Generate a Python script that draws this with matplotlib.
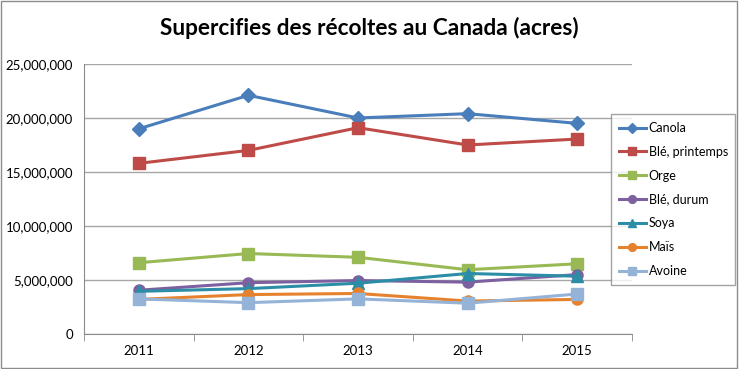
import matplotlib.pyplot as plt
from matplotlib.patches import Rectangle
from matplotlib.ticker import FuncFormatter

plt.rcParams["font.family"] = ["Lato", "DejaVu Sans"]

years = ["2011", "2012", "2013", "2014", "2015"]
canola = [19.0e6, 22.1e6, 20.0e6, 20.4e6, 19.5e6]
ble_printemps = [15.8e6, 17.0e6, 19.1e6, 17.5e6, 18.05e6]
orge = [6.6e6, 7.45e6, 7.1e6, 5.95e6, 6.5e6]
ble_durum = [4.05e6, 4.75e6, 4.95e6, 4.8e6, 5.5e6]
soya = [3.95e6, 4.2e6, 4.7e6, 5.6e6, 5.35e6]
mais = [3.2e6, 3.65e6, 3.75e6, 3.05e6, 3.2e6]
avoine = [3.25e6, 2.9e6, 3.25e6, 2.85e6, 3.7e6]

series = [
    ("Canola", canola, "#4A7EBB", "D", 7),
    ("Blé, printemps", ble_printemps, "#BE4B48", "s", 9),
    ("Orge", orge, "#98B954", "s", 9),
    ("Blé, durum", ble_durum, "#7D60A0", "o", 8),
    ("Soya", soya, "#2C8EA6", "^", 8),
    ("Maïs", mais, "#E6822E", "o", 8),
    ("Avoine", avoine, "#95B3D7", "s", 8),
]

fig = plt.figure(figsize=(7.39, 3.69), dpi=100)
fig.patches.append(Rectangle((0.002, 0.003), 0.995, 0.994, transform=fig.transFigure,
                             fill=False, edgecolor="#8C8C8C", linewidth=1))
ax = fig.add_axes([0.1137, 0.0949, 0.7415, 0.7317])

x = list(range(len(years)))
handles = []
for name, vals, color, marker, ms in series:
    (h,) = ax.plot(x, vals, color=color, linewidth=2.2, marker=marker, markersize=ms,
                   markerfacecolor=color, markeredgecolor=color, label=name)
    handles.append(h)

ax.set_xlim(-0.5, 4.5)
ax.set_ylim(0, 25e6)
ax.set_yticks([0, 5e6, 10e6, 15e6, 20e6, 25e6])
ax.yaxis.set_major_formatter(FuncFormatter(lambda v, p: f"{int(v):,}"))
ax.set_xticks(x)
ax.set_xticklabels(years)
ax.set_xticks([-0.5, 0.5, 1.5, 2.5, 3.5, 4.5], minor=True)
ax.tick_params(axis="x", which="major", length=0, pad=8, labelsize=9.5)
ax.tick_params(axis="x", which="minor", length=5, color="#8C8C8C", direction="out")
ax.tick_params(axis="y", length=0, labelsize=9.5, pad=8)
ax.grid(axis="y", color="#A6A6A6", linewidth=1)
ax.set_axisbelow(True)
for side in ["top", "right"]:
    ax.spines[side].set_visible(False)
for side in ["left", "bottom"]:
    ax.spines[side].set_color("#8C8C8C")

fig.text(0.5, 0.925, "Supercifies des récoltes au Canada (acres)", ha="center", va="center",
         fontsize=16.3, fontweight="bold")

leg = fig.legend(handles=handles, loc="upper left", bbox_to_anchor=(0.827, 0.69),
                 borderaxespad=0, fontsize=9, frameon=True, fancybox=False,
                 edgecolor="#8C8C8C", handlelength=2.2, labelspacing=0.95, borderpad=0.6,
                 handletextpad=0.2, markerscale=0.7)
leg.get_frame().set_linewidth(1)

fig.savefig("out.png", dpi=100)
